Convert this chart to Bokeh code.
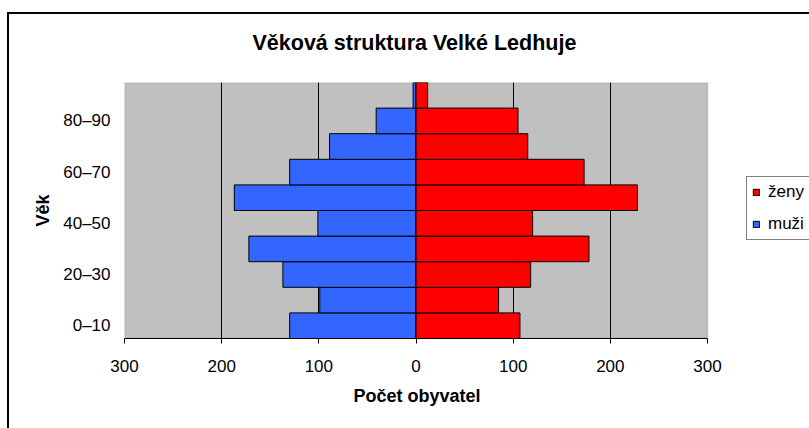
from bokeh.plotting import figure
from bokeh.models import (ColumnDataSource, FixedTicker, CustomJSTickFormatter,
                          Legend, LegendItem, Range1d, BoxAnnotation, Title)
from bokeh.embed import file_html
from bokeh.resources import INLINE

categories = ["0–10", "10–20", "20–30", "30–40", "40–50",
              "50–60", "60–70", "70–80", "80–90", "90–100"]
muzi = [130, 99, 137, 172, 101, 187, 130, 89, 41, 3]
zeny = [107, 85, 118, 178, 120, 228, 173, 115, 105, 12]
x_ticks = [-300, -200, -100, 0, 100, 200, 300]
grid_ticks = [-200, -100, 0, 100, 200]
x_min, x_max = -300, 300

idx = list(range(len(categories)))
src = ColumnDataSource(dict(
    y=idx,
    muzi_left=[-v for v in muzi],
    zeny_right=zeny,
    zero=[0] * len(idx),
))

FONT = "Liberation Sans"

# frame runs from the plot area's left edge to the window's right edge,
# so the legend (to the right of the plot area) is not clipped.
FRAME_LEFT = 124
PLOT_AREA_PX = 583
W = 809
x_end = x_min + (W - FRAME_LEFT) * (x_max - x_min) / PLOT_AREA_PX

p = figure(width=W, height=428, output_backend="svg", toolbar_location=None,
           x_range=Range1d(x_min, x_end), y_range=Range1d(-0.5, len(categories) - 0.5),
           min_border_left=FRAME_LEFT, min_border_right=0, min_border_top=82,
           min_border_bottom=90)

p.background_fill_color = "white"
p.border_fill_alpha = 0
p.outline_line_color = None
p.styles = {
    "background-color": "#ffffff",
    "background-image": "linear-gradient(#000,#000), linear-gradient(#000,#000)",
    "background-position": "7px 12px, 7px 12px",
    "background-size": "2px 420px, 805px 2px",
    "background-repeat": "no-repeat, no-repeat",
}

# grey plot area with grey border (drawn beneath the grid lines)
plot_area = BoxAnnotation(left=x_min, right=x_max, fill_color="#C0C0C0", fill_alpha=1,
                          line_color="#808080", line_width=2, level="image")
p.add_layout(plot_area)

r_m = p.hbar(y="y", left="muzi_left", right="zero", height=1.0, source=src,
             fill_color="#3366FF", line_color="black", line_width=1)
r_z = p.hbar(y="y", left="zero", right="zeny_right", height=1.0, source=src,
             fill_color="#FF0000", line_color="black", line_width=1)

# title
p.title.text = "Věková struktura Velké Ledhuje"
p.title.align = "left"
p.title.offset = 128
p.title.text_font = FONT
p.title.text_font_size = "21.5px"
p.title.text_font_style = "bold"
p.title.text_color = "black"
p.title.standoff = 56

# x axis
xa = p.xaxis[0]
xa.bounds = (x_min, x_max)
xa.ticker = FixedTicker(ticks=x_ticks)
xa.formatter = CustomJSTickFormatter(code="return String(Math.abs(tick));")
xa.major_label_text_font = FONT
xa.major_label_text_font_size = "17px"
xa.major_label_text_color = "black"
xa.major_label_standoff = 16
xa.major_tick_out = 5
xa.major_tick_in = 0
xa.minor_tick_line_color = None
xa.axis_line_color = "black"
xa.major_tick_line_color = "black"

# x axis title, centred under the plot area
x_title = Title(text="Počet obyvatel", align="left", offset=229,
                text_font=FONT, text_font_size="18px", text_font_style="bold",
                text_color="black", standoff=19)
p.add_layout(x_title, "below")

# y axis
ya = p.yaxis[0]
ya.ticker = FixedTicker(ticks=idx[::2])
ya.major_label_overrides = {i: categories[i] for i in idx[::2]}
ya.axis_label = "Věk"
ya.axis_label_text_font = FONT
ya.axis_label_text_font_style = "bold"
ya.axis_label_text_font_size = "18px"
ya.axis_label_text_color = "black"
ya.axis_label_standoff = 7
ya.major_label_text_font = FONT
ya.major_label_text_font_size = "17px"
ya.major_label_text_color = "black"
ya.major_label_standoff = 14
ya.major_tick_out = 0
ya.major_tick_in = 0
ya.major_tick_line_color = None
ya.minor_tick_line_color = None
ya.axis_line_color = None

# grid
p.ygrid.grid_line_color = None
p.xgrid.ticker = FixedTicker(ticks=grid_ticks)
p.xgrid.grid_line_color = "black"
p.xgrid.grid_line_width = 1

# legend, to the right of the plot area
legend = Legend(items=[LegendItem(label="ženy", renderers=[r_z]),
                       LegendItem(label="muži", renderers=[r_m])],
                location=(622, 98))
legend.label_text_font = FONT
legend.label_text_font_size = "17px"
legend.label_text_color = "black"
legend.glyph_width = 8
legend.glyph_height = 8
legend.label_height = 20
legend.label_standoff = 8
legend.spacing = 12
legend.padding = 5
legend.margin = 0
legend.border_line_color = "black"
legend.border_line_width = 1
legend.background_fill_color = "white"
legend.background_fill_alpha = 1
p.add_layout(legend, "center")

open("out.html", "w").write(file_html(p, INLINE))
